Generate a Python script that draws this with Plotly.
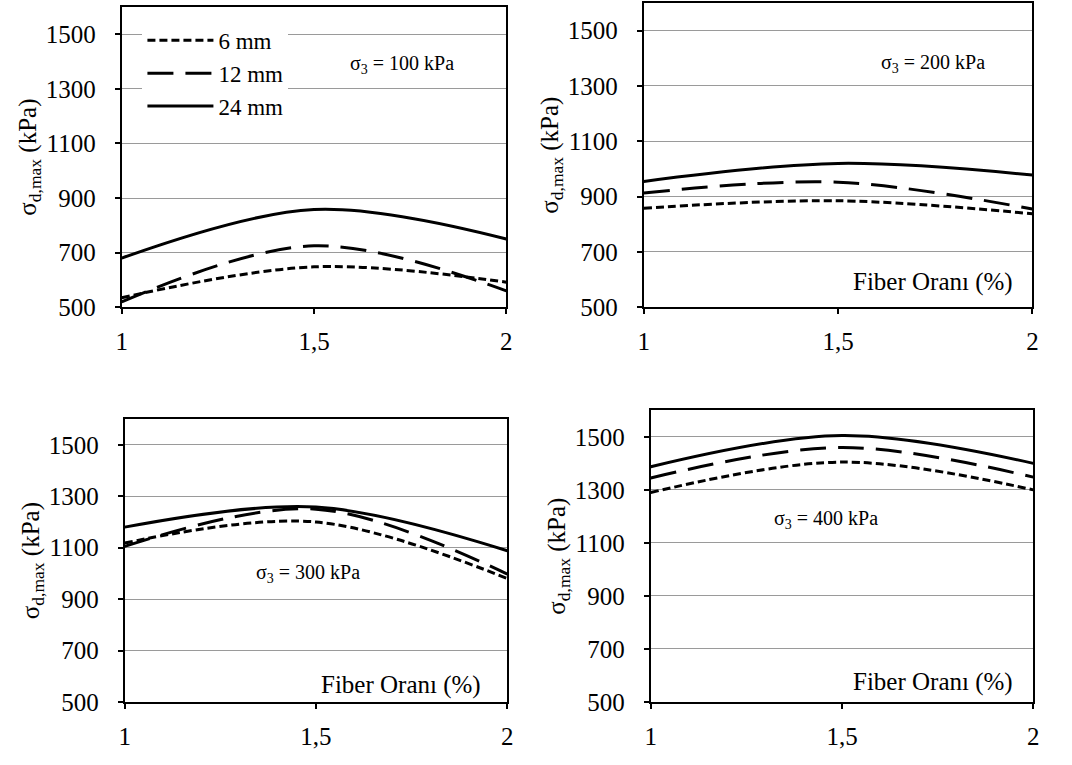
import plotly.graph_objects as go
from plotly.subplots import make_subplots

# Fiber ratio (%) on the x axis
fiber_ratio = [1, 1.5, 2]
x_tick_vals = [1, 1.5, 2]
x_tick_text = ["1", "1,5", "2"]
y_tick_vals = [500, 700, 900, 1100, 1300, 1500]

# Maximum deviator stress (kPa) for each confining pressure and fiber length
s100_6mm = [535, 648, 592]
s100_12mm = [520, 725, 560]
s100_24mm = [680, 858, 750]

s200_6mm = [858, 885, 838]
s200_12mm = [913, 952, 855]
s200_24mm = [955, 1020, 978]

s300_6mm = [1118, 1200, 980]
s300_12mm = [1105, 1250, 997]
s300_24mm = [1180, 1258, 1088]

s400_6mm = [1290, 1405, 1300]
s400_12mm = [1345, 1460, 1348]
s400_24mm = [1387, 1505, 1400]

series_names = ["6 mm", "12 mm", "24 mm"]
pressure_labels = ["σ<sub>3</sub> = 100 kPa", "σ<sub>3</sub> = 200 kPa",
                   "σ<sub>3</sub> = 300 kPa", "σ<sub>3</sub> = 400 kPa"]

panels = [
    (1, 1, [s100_6mm, s100_12mm, s100_24mm]),
    (1, 2, [s200_6mm, s200_12mm, s200_24mm]),
    (2, 1, [s300_6mm, s300_12mm, s300_24mm]),
    (2, 2, [s400_6mm, s400_12mm, s400_24mm]),
]

dashes = ["8px,4px", "26px,12px", "solid"]
FONT = "Liberation Serif"

fig = make_subplots(rows=2, cols=2)

for idx, (r, c, data) in enumerate(panels):
    for name, vals, dash in zip(series_names, data, dashes):
        fig.add_trace(go.Scatter(
            x=fiber_ratio, y=vals, mode="lines", name=name,
            line=dict(color="black", width=3, dash=dash, shape="spline", smoothing=1),
            showlegend=(idx == 0),
        ), row=r, col=c)

# Plot-area placement (paper fractions)
W, H = 1072, 765
boxes = {
    (1, 1): (117, 506, 7, 313),
    (1, 2): (645, 1038, 3, 313),
    (2, 1): (120, 507, 427, 715),
    (2, 2): (652, 1039, 418, 715),
}
for (r, c), (x0, x1, y0, y1) in boxes.items():
    fig.update_xaxes(domain=[x0 / W, x1 / W], row=r, col=c)
    fig.update_yaxes(domain=[1 - y1 / H, 1 - y0 / H], row=r, col=c)

fig.update_xaxes(
    range=[1, 2], tickvals=x_tick_vals, ticktext=x_tick_text,
    showgrid=False, zeroline=False,
    showline=True, linecolor="black", linewidth=2, mirror=True,
    ticks="outside", ticklen=5, tickwidth=1.5, tickcolor="black",
    ticklabelstandoff=6,
    tickfont=dict(family=FONT, size=25, color="black"),
)
fig.update_yaxes(
    range=[500, 1600], tickvals=y_tick_vals,
    showgrid=True, gridcolor="#9a9a9a", gridwidth=1, zeroline=False,
    showline=True, linecolor="black", linewidth=2, mirror=True,
    ticks="outside", ticklen=5, tickwidth=1.5, tickcolor="black",
    ticklabelstandoff=14,
    tickfont=dict(family=FONT, size=25, color="black"),
    title=dict(text="σ<sub>d,max</sub> (kPa)", font=dict(family=FONT, size=25, color="black"),
               standoff=2),
)

# Confining pressure labels
press_pos = [("x", "y", 1.73, 1390), ("x2", "y2", 1.745, 1380),
             ("x3", "y3", 1.48, 1000), ("x4", "y4", 1.458, 1190)]
for (xr, yr, px, py), txt in zip(press_pos, pressure_labels):
    fig.add_annotation(xref=xr, yref=yr, x=px, y=py, text=txt, showarrow=False,
                       font=dict(family=FONT, size=20, color="black"))

# x-axis caption inside the lower panels
caption_pos = [("x2", "y2", 1.954, 592), ("x3", "y3", 1.936, 565), ("x4", "y4", 1.951, 574)]
for xr, yr, cx, cy in caption_pos:
    fig.add_annotation(xref=xr, yref=yr, x=cx, y=cy, xanchor="right", yanchor="middle",
                       text="Fiber Oranı (%)", showarrow=False,
                       font=dict(family=FONT, size=25, color="black"))

fig.update_layout(
    width=W, height=H,
    margin=dict(l=0, r=0, t=0, b=0),
    paper_bgcolor="white", plot_bgcolor="white",
    font=dict(family=FONT, color="black"),
    legend=dict(x=0.1287, y=0.975, xanchor="left", yanchor="top",
                bgcolor="white", font=dict(family=FONT, size=23, color="black"),
                itemwidth=66, tracegroupgap=0),
)

fig.write_html("out.html")
